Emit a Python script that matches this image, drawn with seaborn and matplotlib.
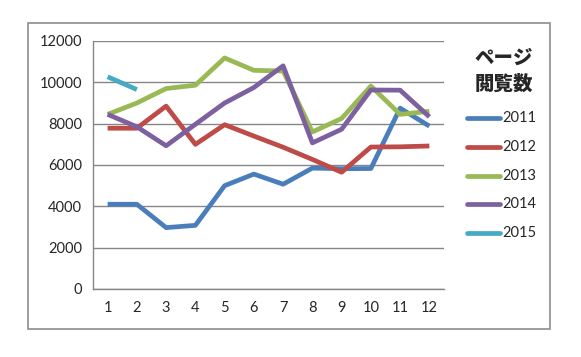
import matplotlib
matplotlib.use("Agg")
import matplotlib.pyplot as plt
import seaborn as sns
import pandas as pd
import numpy as np
from matplotlib.patches import Rectangle

months = list(range(1, 13))
v2011 = [4100, 4100, 2970, 3080, 5000, 5560, 5070, 5850, 5820, 5830, 8750, 7880]
v2012 = [7780, 7780, 8850, 7000, 7950, 7400, 6860, 6270, 5650, 6870, 6880, 6920]
v2013 = [8450, 9000, 9700, 9860, 11180, 10580, 10550, 7600, 8250, 9820, 8450, 8600]
v2014 = [8450, 7850, 6930, 7970, 9000, 9750, 10800, 7070, 7730, 9630, 9620, 8330]
v2015 = [10270, 9650]
years = ["2011", "2012", "2013", "2014", "2015"]
colors = ["#4A7EBB", "#BE4B48", "#98B954", "#7D60A0", "#46AAC5"]

rows = []
for yr, vals in zip(years, [v2011, v2012, v2013, v2014, v2015]):
    for m, v in zip(months, vals):
        rows.append({"month": m, "views": v, "year": yr})
df = pd.DataFrame(rows)

sns.set_style("white")
plt.rcParams['font.family'] = ['Lato', 'Noto Sans CJK JP', 'DejaVu Sans']

fig = plt.figure(figsize=(5.81, 3.57), dpi=100)
ax = fig.add_axes([93/581, 1-289/357, (444-93)/581, (289-41)/357])

sns.lineplot(data=df, x="month", y="views", hue="year", palette=colors,
             linewidth=3.4, ax=ax, legend=False, solid_capstyle="butt")

ax.set_xlim(0.5, 12.5)
ax.set_ylim(0, 12000)
ax.set_yticks(range(0, 12001, 2000))
ax.set_xticks(months)
ax.set_xticks(np.arange(0.5, 13, 1), minor=True)
ax.tick_params(axis="x", which="major", length=0, pad=9, labelsize=10.5)
ax.tick_params(axis="x", which="minor", length=5, width=1, color="#868686", direction="out")
ax.tick_params(axis="y", which="major", length=5, width=1, color="#868686", direction="out", labelsize=10.5, pad=3)
ax.set_xlabel("")
ax.set_ylabel("")
ax.grid(axis="y", color="#868686", linewidth=1)
ax.set_axisbelow(True)
for s in ["top", "right"]:
    ax.spines[s].set_visible(False)
for s in ["left", "bottom"]:
    ax.spines[s].set_color("#868686")
    ax.spines[s].set_linewidth(1)

# outer chart border
fig.patches.append(Rectangle((28/581, 1-329/357), (550-28)/581, (329-23)/357,
                             transform=fig.transFigure, fill=False,
                             edgecolor="#8c8c8c", linewidth=1.2))

# legend
fig.text(504/581, 1-71/357, "ページ\n閲覧数", ha="center", va="center",
         fontsize=14, fontweight="black", linespacing=1.45,
         family=['Noto Sans CJK JP', 'DejaVu Sans'])
for i, (yr, c) in enumerate(zip(years, colors)):
    yy = 1 - (118 + i*28.8)/357
    fig.add_artist(plt.Line2D([467/581, 500/581], [yy, yy], color=c, linewidth=3.4,
                              transform=fig.transFigure, solid_capstyle="round"))
    fig.text(502/581, yy, yr, ha="left", va="center", fontsize=10.5)

fig.savefig("out.png", dpi=100)
